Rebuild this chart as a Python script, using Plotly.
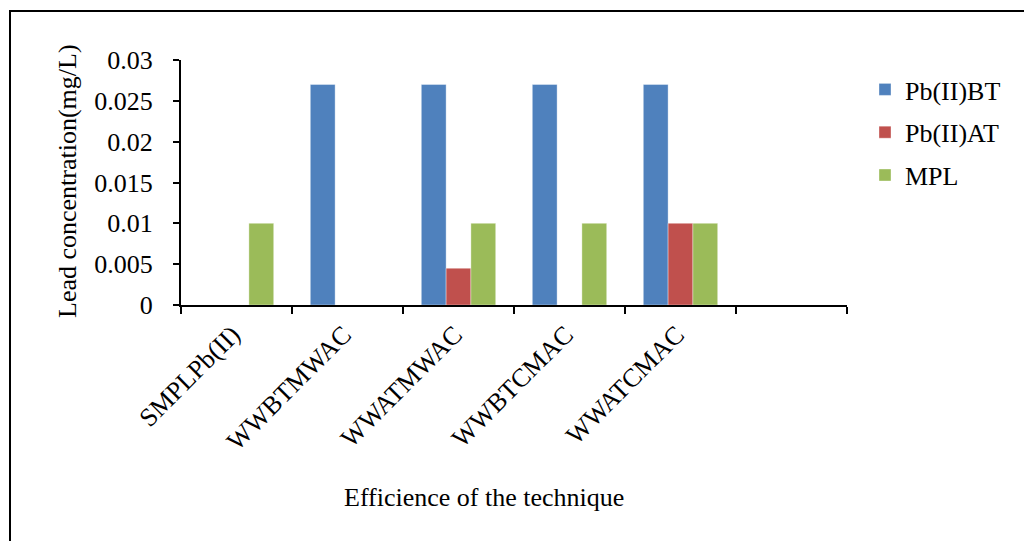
import plotly.graph_objects as go

# Categories (the last slot is an empty placeholder on the axis)
categories = ["SMPLPb(II)", "WWBTMWAC", "WWATMWAC", "WWBTCMAC", "WWATCMAC", " "]

# Lead concentration (mg/L)
pb_bt = [None, 0.027, 0.027, 0.027, 0.027, None]
pb_at = [None, None, 0.0045, None, 0.010, None]
mpl = [0.010, None, 0.010, 0.010, 0.010, None]

y_ticks = [0, 0.005, 0.01, 0.015, 0.02, 0.025, 0.03]
y_tick_text = ["0", "0.005", "0.01", "0.015", "0.02", "0.025", "0.03"]

FONT = "Liberation Serif"
FS = 26

# Plot area geometry in pixels
W, H = 1024, 541
L, R, T, B = 181, 847, 60, 305
pw, ph = R - L, B - T


def px_x(x):
    return (x - L) / pw


def px_y(y):
    return (B - y) / ph


fig = go.Figure()
series = [
    ("Pb(II)BT", pb_bt, "#4F81BD"),
    ("Pb(II)AT", pb_at, "#C0504D"),
    ("MPL", mpl, "#9BBB59"),
]
for name, vals, color in series:
    fig.add_trace(go.Bar(
        name=name, x=categories, y=vals,
        marker=dict(color=color, line=dict(width=0.6, color="rgba(255,255,255,0.6)")),
        legendgroup=name,
    ))

fig.update_layout(
    width=W, height=H,
    margin=dict(l=L, r=W - R, t=T, b=H - B, autoexpand=False),
    paper_bgcolor="white", plot_bgcolor="white",
    barmode="group", bargap=0.33, bargroupgap=0,
    font=dict(family=FONT, size=FS, color="black"),
    showlegend=True,
    legend=dict(
        x=px_x(865), y=px_y(66), xanchor="left", yanchor="top",
        font=dict(family=FONT, size=26, color="black"),
        traceorder="grouped", tracegroupgap=6,
        itemwidth=30,
        bgcolor="rgba(0,0,0,0)",
    ),
    xaxis=dict(
        type="category", categoryorder="array", categoryarray=categories,
        range=[-0.5, 5.5],
        showline=True, linecolor="black", linewidth=2,
        ticks="outside", tickson="boundaries", ticklen=7, tickwidth=2, tickcolor="black",
        tickangle=-45, tickfont=dict(family=FONT, size=FS, color="black"),
        ticklabelshift=-4, ticklabelstandoff=2,
        showgrid=False, zeroline=False,
    ),
    yaxis=dict(
        range=[0, 0.03],
        tickvals=y_ticks, ticktext=y_tick_text,
        showline=True, linecolor="black", linewidth=2,
        ticks="outside", ticklen=6, tickwidth=2, tickcolor="black",
        tickfont=dict(family=FONT, size=FS, color="black"),
        ticklabelstandoff=15,
        showgrid=False, zeroline=False,
    ),
    annotations=[
        dict(text="Lead concentration(mg/L)", xref="paper", yref="paper",
             x=px_x(67), y=px_y(181), xanchor="center", yanchor="middle",
             textangle=-90, showarrow=False,
             font=dict(family=FONT, size=FS, color="black")),
        dict(text="Efficience of the technique", xref="paper", yref="paper",
             x=px_x(484), y=px_y(497), xanchor="center", yanchor="middle",
             showarrow=False,
             font=dict(family=FONT, size=FS, color="black")),
    ],
    shapes=[
        dict(type="rect", xref="paper", yref="paper",
             x0=px_x(10), x1=px_x(1040), y0=px_y(560), y1=px_y(11),
             line=dict(color="black", width=2), fillcolor="rgba(0,0,0,0)", layer="below"),
    ],
)

fig.write_html("out.html")
